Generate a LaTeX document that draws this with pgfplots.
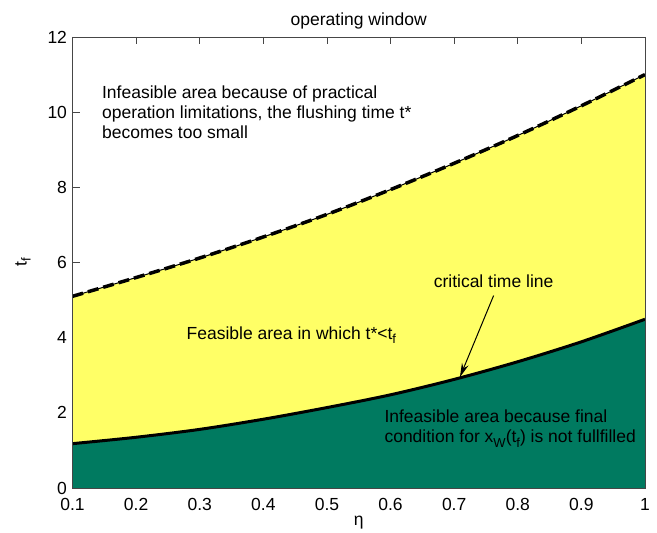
\documentclass[border=0pt]{standalone}
\usepackage{fontspec}
\setmainfont{Liberation Sans}
\usepackage{pgfplots}
\pgfplotsset{compat=1.18}
\usepackage{pgfplotstable}
\usetikzlibrary{arrows.meta}

\definecolor{feasyellow}{RGB}{255,255,102}
\definecolor{infgreen}{RGB}{0,122,96}
\definecolor{frame}{RGB}{70,70,70}

\newcommand\sub[1]{\raisebox{-0.45ex}{\fontsize{13bp}{13bp}\selectfont #1}}

% upper limit: practical operation limit (t* too small)
\pgfplotstableread{
eta   tf
0.1   5.10
0.2   5.60
0.3   6.12
0.4   6.68
0.5   7.28
0.6   7.94
0.7   8.64
0.8   9.38
0.9   10.17
1.0   11.00
}\upperline

% lower limit: critical time line
\pgfplotstableread{
eta   tf
0.1   1.18
0.2   1.35
0.3   1.56
0.4   1.83
0.5   2.14
0.6   2.48
0.7   2.89
0.8   3.36
0.9   3.89
1.0   4.49
}\lowerline

\begin{document}
\begin{tikzpicture}
\begin{axis}[
  name=ax,
  scale only axis,
  width=572.5bp, height=451bp,
  xmin=0.1, xmax=1, ymin=0, ymax=12,
  xtick={0.1,0.2,0.3,0.4,0.5,0.6,0.7,0.8,0.9,1},
  ytick={0,2,4,6,8,10,12},
  tick align=inside,
  major tick length=7bp,
  tick style={frame, line width=0.8bp},
  axis line style={frame, line width=0.9bp},
  font=\fontsize{17.5bp}{20bp}\selectfont,
  /pgf/number format/assume math mode=true,
  xticklabel style={yshift=-7bp},
  yticklabel style={xshift=-2bp},
  title={operating window},
  title style={yshift=-2bp},
  xlabel={η},
  ylabel={t\sub{f}},
  xlabel style={yshift=2bp},
  ylabel style={yshift=10bp},
  clip=false,
]
\addplot[draw=none, fill=feasyellow, smooth] table[x=eta, y=tf] {\upperline} \closedcycle;
\addplot[draw=none, fill=infgreen, smooth] table[x=eta, y=tf] {\lowerline} \closedcycle;
\addplot[black, line width=3bp, smooth] table[x=eta, y=tf] {\lowerline};
\addplot[black, line width=1bp, smooth] table[x=eta, y=tf] {\upperline};
\addplot[black, line width=3.5bp, dash pattern=on 11bp off 5bp, smooth] table[x=eta, y=tf] {\upperline};
\draw[frame, line width=0.9bp] (rel axis cs:0,0) rectangle (rel axis cs:1,1);

\node[anchor=west, align=left] at (axis cs:0.141,10.01)
  {Infeasible area because of practical\\operation limitations, the flushing time t*\\becomes too small};
\node[anchor=west] at (axis cs:0.274,4.07) {Feasible area in which t*<t\sub{f}};
\node at (axis cs:0.762,5.49) {critical time line};
\draw[black, line width=1bp, -{Stealth[length=14bp, width=7bp]}]
  (axis cs:0.762,5.12) -- (axis cs:0.709,2.95);
\node[anchor=west, align=left] at (axis cs:0.585,1.58)
  {Infeasible area because final\\condition for x\sub{W}(t\sub{f}) is not fullfilled};
\end{axis}
\path ([xshift=-72.5bp, yshift=-44bp]ax.south west) rectangle ([xshift=12bp, yshift=37bp]ax.north east);
\end{tikzpicture}
\end{document}
